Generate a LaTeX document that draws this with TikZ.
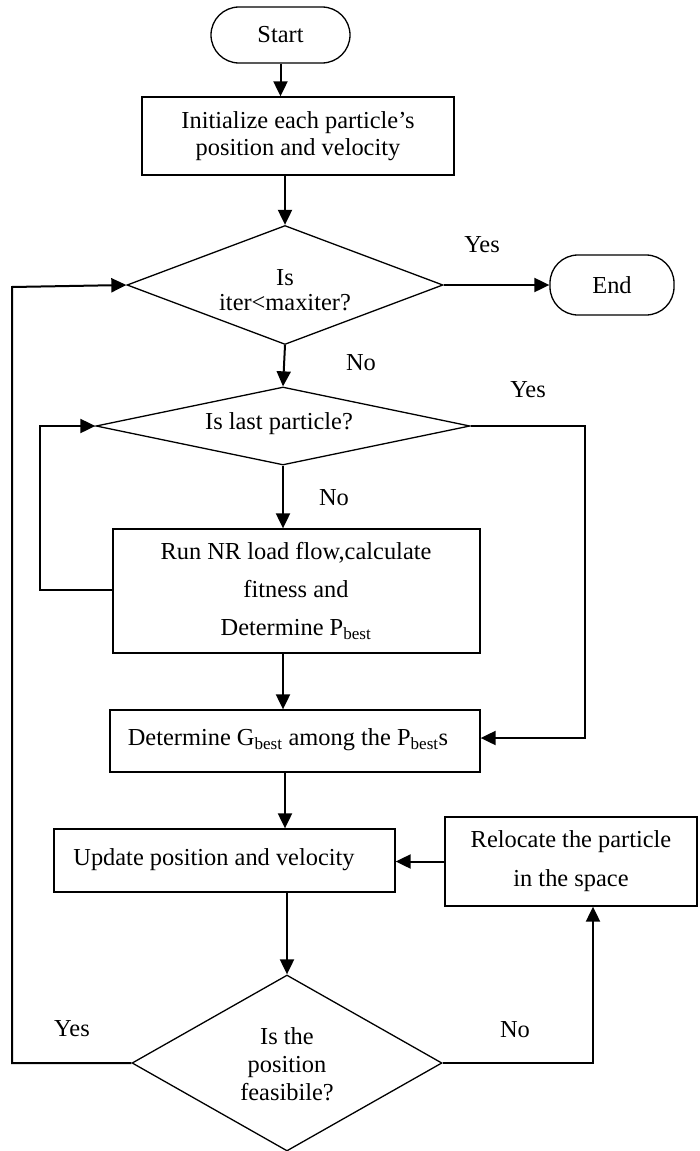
\documentclass[tikz,border=0pt]{standalone}
\usepackage{fontspec}
\setmainfont{Liberation Serif}
\usetikzlibrary{arrows.meta,shapes.geometric}
\begin{document}
\begin{tikzpicture}[x=1pt,y=-1pt,
  every node/.style={font=\fontsize{24.4}{27}\selectfont},
  box/.style={draw,line width=1.3pt,inner sep=0pt},
  pill/.style={draw,line width=1.3pt,rounded corners=28pt,inner sep=0pt},
  dia/.style={draw,diamond,line width=1.3pt,inner sep=0pt},
  txt/.style={inner sep=0pt,align=center},
  lbl/.style={inner sep=0pt},
  arr/.style={line width=2pt,-{Triangle[length=15pt,width=14pt]}},
  ln/.style={line width=2pt}]
\useasboundingbox (0,0) rectangle (699,1151);
\fill[white] (0,0) rectangle (699,1151);
% nodes
\node[pill,minimum width=139pt,minimum height=56pt] (start) at (280.5,35) {Start};
\node[box,minimum width=312pt,minimum height=78pt,txt] (init) at (298,136)
  {Initialize each particle’s\\position and velocity};
\node[dia,minimum width=316pt,minimum height=119pt] (d1) at (285,285) {};
\node[txt,font=\fontsize{24.4}{25}\selectfont] (d1t) at (285,290) {Is\\iter<maxiter?};
\node[pill,minimum width=124pt,minimum height=60pt,rounded corners=28pt] (end) at (612,285) {End};
\node[dia,minimum width=374pt,minimum height=78pt] (d2) at (283,426) {};
\node[txt] (d2t) at (279,424) {Is last particle?};
\node[box,minimum width=367pt,minimum height=124pt,txt] (nr) at (296.5,591) {};
\node[txt,font=\fontsize{24.4}{38}\selectfont] (nrt) at (296,591)
  {Run NR load flow,calculate\\fitness and\\Determine P\textsubscript{best}};
\node[box,minimum width=370pt,minimum height=62pt] (gb) at (295,741) {};
\node[txt] (gbt) at (288,740) {Determine G\textsubscript{best} among the P\textsubscript{best}s};
\node[box,minimum width=341pt,minimum height=63pt] (up) at (224.5,860.5) {};
\node[txt] (upt) at (214,860) {Update position and velocity};
\node[box,minimum width=252pt,minimum height=89pt] (rel) at (571,861.5) {};
\node[txt,font=\fontsize{24.4}{39}\selectfont] (relt) at (571,861.5) {Relocate the particle\\in the space};
\node[dia,minimum width=310pt,minimum height=176pt] (d3) at (287,1063) {};
\node[txt,font=\fontsize{24.4}{28}\selectfont] (d3t) at (287,1064) {Is the\\position\\feasibile?};
% labels
\node[lbl] (y1) at (482,245) {Yes};
\node[lbl] (n1) at (361,363) {No};
\node[lbl] (y2) at (528,390) {Yes};
\node[lbl] (n2) at (334,498) {No};
\node[lbl] (y3) at (72,1029) {Yes};
\node[lbl] (n3) at (515,1030) {No};
% coordinates
\coordinate (cl) at (12,1063);
\coordinate (ct) at (12,287);
\coordinate (cr) at (593,1063);
\coordinate (c2r) at (585,426);
\coordinate (c2b) at (585,738);
\coordinate (cnl) at (40,590);
\coordinate (cnt) at (40,426);
% connectors
\draw[arr] (start.south) -- (start.south |- init.north);
\draw[arr] (d1.north |- init.south) -- (d1.north);
\draw[arr] (d1.east) -- (end.west);
\draw[arr] (d1.south) -- (d2.north);
\draw[arr] (d2.south) -- (d2.south |- nr.north);
\draw[arr] (d2.south |- nr.south) -- (d2.south |- gb.north);
\draw[arr] (d1.south |- gb.south) -- (d1.south |- up.north);
\draw[arr] (d3.north |- up.south) -- (d3.north);
\draw[arr] (rel.west) -- (rel.west -| up.east);
\draw[arr] (d3.east) -- (cr) -- (cr |- rel.south);
\draw[arr] (d3.west) -- (cl) -- (ct) -- (d1.west);
\draw[arr] (d2.east) -- (c2r) -- (c2b) -- (c2b -| gb.east);
\draw[arr] (cnl -| nr.west) -- (cnl) -- (cnt) -- (d2.west);
\end{tikzpicture}
\end{document}
